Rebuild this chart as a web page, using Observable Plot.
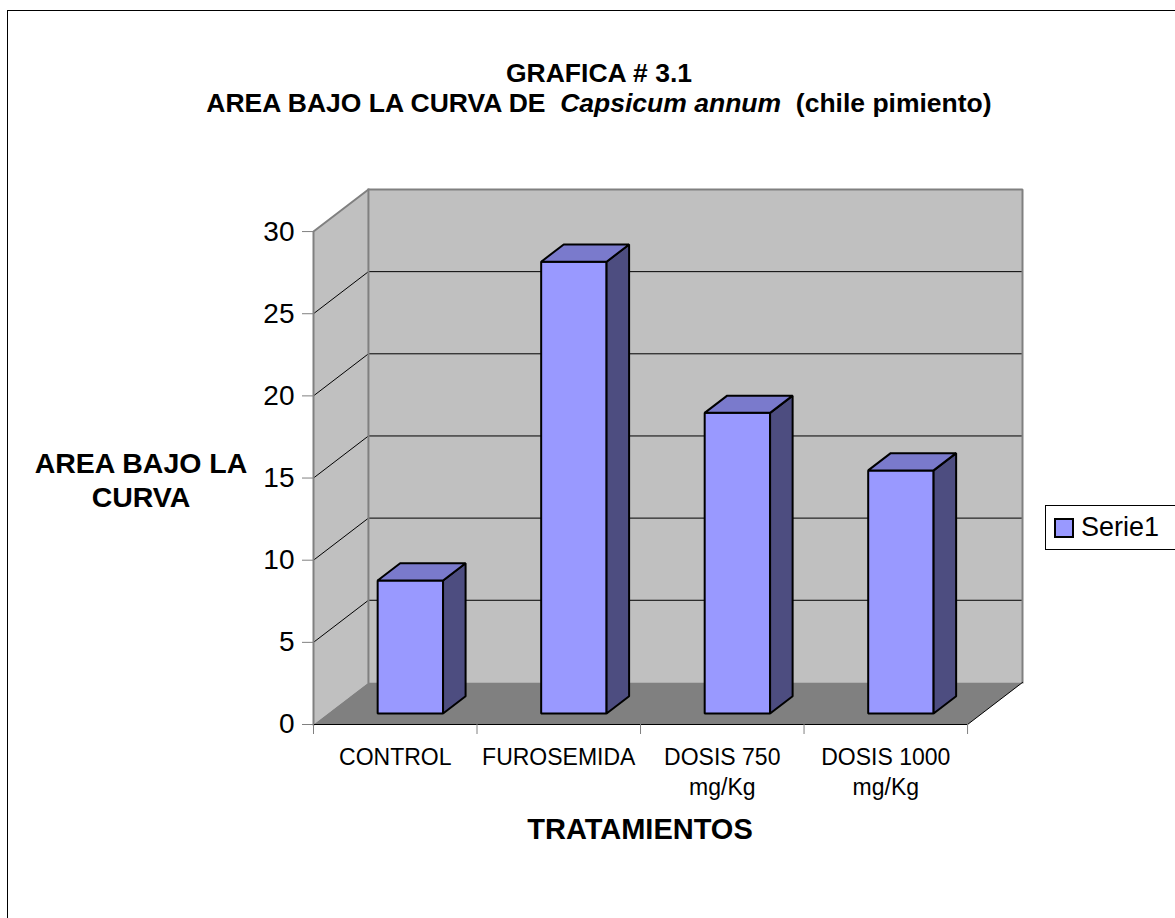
<!DOCTYPE html>
<html>
<head>
<meta charset="utf-8">
<script src="https://cdn.jsdelivr.net/npm/d3@7"></script>
<script src="https://cdn.jsdelivr.net/npm/@observablehq/plot@0.6"></script>
<style>
  html, body { margin: 0; padding: 0; background: #fff; overflow: hidden; }
  body { width: 1175px; height: 918px; position: relative; font-family: "Liberation Sans", Arial, sans-serif; color: #000; }
  #frame { position: absolute; left: 7px; top: 10px; width: 1183px; height: 930px; border: 1px solid #000; box-sizing: border-box; }
  #chart { position: absolute; left: 0; top: 0; }
  .title { position: absolute; left: 0; width: 1198px; text-align: center; font-weight: bold; font-size: 26.5px; line-height: 30px; }
  #ylabel { position: absolute; left: 11px; width: 260px; top: 446px; text-align: center; font-weight: bold; font-size: 28.5px; line-height: 34px; }
  #xlabel { position: absolute; left: 440px; width: 400px; top: 813px; text-align: center; font-weight: bold; font-size: 29px; line-height: 32px; }
  #legend { position: absolute; left: 1045px; top: 505px; width: 140px; height: 45px; border: 1px solid #000; box-sizing: border-box; }
  #legend .swatch { position: absolute; left: 8px; top: 12px; width: 20px; height: 20px; border: 2px solid #000; box-sizing: border-box; }
  #legend .name { position: absolute; left: 35px; top: 5px; font-size: 27px; line-height: 32px; }
</style>
</head>
<body>
<div id="frame"></div>
<div id="chart"></div>
<div class="title" style="top:58px">GRAFICA # 3.1</div>
<div class="title" style="top:88px">AREA BAJO LA CURVA DE&nbsp; <i>Capsicum annum</i>&nbsp; (chile pimiento)</div>
<div id="ylabel">AREA BAJO LA<br>CURVA</div>
<div id="xlabel">TRATAMIENTOS</div>
<div id="legend"><div class="swatch"></div><div class="name"></div></div>
<script>
// Treatments, measured area under the curve, and value-axis ticks
const categories = ["CONTROL", "FUROSEMIDA", "DOSIS 750\nmg/Kg", "DOSIS 1000\nmg/Kg"];
const values = [8.1, 27.5, 18.3, 14.8];
const yTicks = [0, 5, 10, 15, 20, 25, 30];
const seriesName = "Serie1";

const barFront = "#9999ff";
const barTop = "#7a7acc";
const barSide = "#4d4d80";

// Oblique 3-D projection: a point (x, y, depth) is shifted up and to the right
// by the depth, expressed in category units (x) and value units (y).
const DX = 0.336, DY = 2.56;
const BAR_W = 0.4, BAR_X = 0.305, Z0 = 0.26, Z1 = 0.67;
const n = categories.length, yMax = 30;

function poly(id, pts) {
  return pts.map(([x, y, z]) => ({id, x: x + z * DX, y: y + z * DY}));
}

const leftWall = poly("left", [[0, 0, 0], [0, yMax, 0], [0, yMax, 1], [0, 0, 1]]);
const backWall = poly("back", [[0, 0, 1], [n, 0, 1], [n, yMax, 1], [0, yMax, 1]]);
const floor = poly("floor", [[0, 0, 0], [n, 0, 0], [n, 0, 1], [0, 0, 1]]);

const gridlines = yTicks.filter(v => v > 0 && v < yMax)
  .flatMap(v => poly("g" + v, [[0, v, 0], [0, v, 1], [n, v, 1]]));

const wallEdges = [
  ...poly("e1", [[0, 0, 0], [0, yMax, 0], [0, yMax, 1], [n, yMax, 1], [n, 0, 1]]),
  ...poly("e2", [[0, yMax, 1], [0, 0, 1]])
];
const floorEdges = poly("f", [[0, 0, 0], [n, 0, 0], [n, 0, 1]]);

const fronts = [], sides = [], tops = [];
values.forEach((v, i) => {
  const x0 = i + BAR_X, x1 = x0 + BAR_W;
  fronts.push(...poly("b" + i, [[x0, 0, Z0], [x1, 0, Z0], [x1, v, Z0], [x0, v, Z0]]));
  sides.push(...poly("b" + i, [[x1, 0, Z0], [x1, 0, Z1], [x1, v, Z1], [x1, v, Z0]]));
  tops.push(...poly("b" + i, [[x0, v, Z0], [x1, v, Z0], [x1, v, Z1], [x0, v, Z1]]));
});

const face = (data, fill, stroke, strokeWidth) =>
  Plot.line(data, {x: "x", y: "y", z: "id", curve: "linear-closed", fill, stroke, strokeWidth, strokeLinejoin: "miter"});
const edge = (data, stroke, strokeWidth) =>
  Plot.line(data, {x: "x", y: "y", z: "id", stroke, strokeWidth, strokeLinejoin: "miter", strokeLinecap: "square"});

const chart = Plot.plot({
  width: 1175,
  height: 918,
  marginLeft: 313,
  marginRight: 153,
  marginTop: 189,
  marginBottom: 194,
  style: {fontFamily: "'Liberation Sans', Arial, sans-serif", background: "transparent", overflow: "visible"},
  x: {type: "linear", domain: [0, n + DX]},
  y: {type: "linear", domain: [0, yMax + DY]},
  marks: [
    face(leftWall, "#c0c0c0", "none", 0),
    face(backWall, "#c0c0c0", "none", 0),
    face(floor, "#808080", "none", 0),
    edge(gridlines, "#000", 1),
    edge(wallEdges, "#808080", 2),
    edge(floorEdges, "#000", 1),
    Plot.axisY({ticks: yTicks, tickSize: 11, tickPadding: 8, fontSize: 28, stroke: "#808080", fill: "#000", label: null}),
    Plot.axisX({ticks: d3.range(n + 1), tickSize: 10, tickFormat: () => "", stroke: "#808080", label: null}),
    Plot.axisX({ticks: categories.map((_, i) => i + 0.5), tickSize: 0, tickPadding: 19, fontSize: 23,
      lineHeight: 1.3, fill: "#000", tickFormat: d => categories[Math.floor(d)], label: null}),
    face(fronts, barFront, "#000", 2),
    face(sides, barSide, "#000", 2),
    face(tops, barTop, "#000", 2)
  ]
});
document.getElementById("chart").append(chart);

document.querySelector("#legend .swatch").style.background = barFront;
document.querySelector("#legend .name").textContent = seriesName;
</script>
</body>
</html>
